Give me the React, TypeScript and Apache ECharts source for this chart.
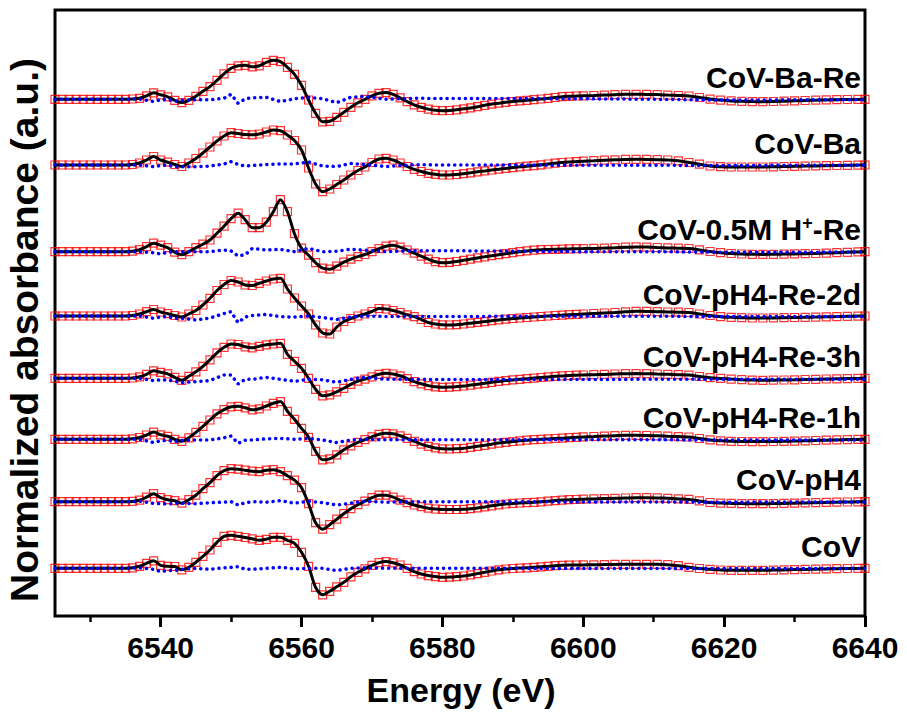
import React, { useEffect, useRef } from 'react';
import * as echarts from 'echarts';

// Energy grid (eV) of the measured points
const energies = [
  6525, 6526, 6527, 6528, 6529, 6530, 6531, 6532, 6533, 6534, 6535, 6536,
  6537, 6538, 6539, 6540, 6541, 6542, 6543, 6544, 6545, 6546, 6547, 6548, 6549, 6550,
  6551, 6552, 6553, 6554, 6555, 6556, 6557, 6558, 6559, 6560, 6561, 6562, 6563, 6564,
  6565, 6566, 6567, 6568, 6569, 6570, 6571, 6572, 6573, 6574, 6575, 6576, 6577, 6578,
  6579, 6580, 6581, 6582, 6583, 6584, 6585, 6586, 6587, 6588, 6589, 6590, 6591, 6592,
  6593, 6594, 6595, 6596, 6597, 6598, 6599, 6600,
  6601.5, 6603, 6604.5, 6606, 6607.5, 6609, 6610.5, 6612, 6613.5, 6615, 6616.5, 6618,
  6619.5, 6621, 6622.5, 6624, 6625.5, 6627, 6628.5, 6630, 6631.5, 6633, 6634.5, 6636,
  6637.5, 6639, 6640,
];

// Energy grid of the residual (difference) curves
const resEnergies = [
  6525, 6530, 6535, 6537, 6539, 6540, 6541, 6542, 6543, 6545, 6547, 6549, 6550, 6551,
  6552, 6553, 6555, 6557, 6559, 6561, 6563, 6565, 6567, 6569, 6572, 6576, 6580, 6590,
  6600, 6610, 6620, 6630, 6640,
];

const labels = ['CoV', 'CoV-pH4', 'CoV-pH4-Re-1h', 'CoV-pH4-Re-3h', 'CoV-pH4-Re-2d', 'CoV-0.5M H+-Re', 'CoV-Ba', 'CoV-Ba-Re'];
// vertical stacking offsets (arbitrary units)
const offsets = [47.7, 114.3, 176.7, 237.7, 300, 364.3, 451, 516.7];
const yMax = 606;

const majorTicks = [6540, 6560, 6580, 6600, 6620, 6640];
const minorTicks = [6530, 6550, 6570, 6590, 6610, 6630];

const cov = [
  0, 0, 0, 0, 0, 0, 0, 0, 0, 0, 0, 0.5,
  2, 5, 7.5, 3, 2, 1.8, -1.5, 1, 6, 12, 18.3, 26, 32, 33,
  32, 30.8, 29.5, 28, 29, 31, 31, 28, 25, 16, 2, -19, -26.5, -23,
  -18.5, -14, -8.5, -4, -0.5, 3, 5.7, 6.7, 5.5, 3.3, 0, -3.3, -5.7, -7.3,
  -8.3, -9, -8.8, -8.3, -7.7, -6.6, -5.3, -4, -2.7, -1.5, -0.7, -0.2, 0.2, 0.5,
  1, 1.5, 2, 2.6, 3, 3.2, 3.3, 3.4,
  3.5, 3.7, 3.9, 4, 4, 4, 4, 3.6, 2.6, 1, -0.2, -1,
  -1.7, -2, -2, -2, -2, -1.8, -1.6, -1.3, -1.1, -0.9, -0.6, -0.4,
  -0.2, -0.1, 0,
];
const covPH4 = [
  0, 0, 0, 0, 0, 0, 0, 0, 0, 0, 0, 0.3,
  1.5, 4.5, 8, 4, 2, 1, -1.5, 2, 6.5, 13, 19, 26, 31, 33,
  32.5, 31.5, 30.5, 30, 31.5, 32, 30, 26, 21.5, 14, -2, -21, -27.5, -23,
  -17.5, -12, -7, -3, 0.5, 4, 6.5, 6.5, 4.5, 1.5, -1, -3.3, -5, -6.5,
  -7.3, -7.7, -7.8, -7.8, -7.6, -7, -6.2, -5.2, -4.1, -3.1, -2.3, -1.7, -1.3, -1,
  -0.6, -0.1, 0.5, 1.1, 1.6, 2, 2.2, 2.5,
  2.8, 3.1, 3.4, 3.7, 4, 4, 3.8, 3.4, 2.8, 2.3, 0.8, -0.8,
  -1.4, -1.7, -1.9, -2, -2, -1.9, -1.7, -1.5, -1.2, -1, -0.7, -0.5,
  -0.3, -0.1, 0,
];
const covRe1h = [
  0, 0, 0, 0, 0, 0, 0, 0, 0, 0, 0, 0.5,
  1.8, 4.3, 7.2, 4.5, 3, 0, -2, 1.5, 7, 13, 19.3, 25.5, 29.7, 32.5,
  33, 31.5, 29.5, 30.5, 33.3, 36, 37.7, 28, 20, 11, 2, -12, -20.5, -19.5,
  -15.5, -10.5, -6.5, -3, -0.3, 2.5, 5, 6, 5.5, 3.5, 1, -2, -4.8, -7,
  -8.6, -9.5, -9.7, -9.4, -9, -8, -7, -6, -4.9, -3.8, -3, -2.2, -1.5, -0.9,
  -0.4, 0, 0.4, 0.8, 1.1, 1.6, 2, 2.4,
  2.8, 3.2, 3.6, 4, 4, 3.8, 3.5, 3.1, 2.7, 2.3, 0.8, -0.6,
  -1.5, -2, -2.2, -2.3, -2.3, -2.2, -2, -1.8, -1.5, -1.2, -0.9, -0.6,
  -0.3, -0.1, 0,
];
const covRe3h = [
  0, 0, 0, 0, 0, 0, 0, 0, 0, 0, 0, 0.3,
  1.5, 4, 7.5, 6, 4.5, 1, -2, 2, 6.5, 12, 18.5, 25.5, 31, 34.3,
  33.8, 31.5, 30.5, 32, 33.5, 34.3, 35, 24, 17, 10, 0, -11, -17.5, -16.5,
  -13.5, -10, -6, -2.8, -0.8, 1.5, 4, 5, 4.3, 2.5, -0.3, -3.3, -5.5, -7.3,
  -8.5, -9, -8.8, -8.3, -7.7, -6.8, -5.9, -5, -4, -3.1, -2.3, -1.6, -1, -0.4,
  0.2, 0.8, 1.4, 2, 2.4, 2.8, 3.1, 3.3,
  3.6, 3.9, 4.3, 4.6, 4.7, 4.6, 4.3, 4, 3.6, 3.2, 1.8, 0.6,
  -0.1, -0.8, -1.4, -1.8, -2, -1.9, -1.7, -1.5, -1.2, -1, -0.7, -0.5,
  -0.3, -0.1, 0,
];
const covRe2d = [
  0, 0, 0, 0, 0, 0, 0, 0, 0, 0, 0, 0.5,
  2, 4.3, 6.5, 4, 2.3, 0.5, -1, 2, 5.5, 11, 17.7, 25.5, 31.5, 35.5,
  34, 31, 30.5, 32.7, 35, 37, 37.7, 27, 18, 10, 2, -9, -17, -18,
  -11, -5.5, -2.5, 0, 2, 4.5, 7.5, 7, 5.5, 3.5, 1.2, -0.7, -3.5, -6.5,
  -8, -8.8, -9, -8.7, -8, -7.2, -6.4, -5.6, -4.7, -3.9, -3.2, -2.5, -2, -1.5,
  -1, -0.5, 0, 0.5, 0.9, 1.3, 1.6, 2,
  2.5, 3, 3.5, 4.2, 4.7, 4.6, 4.3, 4, 3.8, 3.5, 2, 0.5,
  -0.7, -1.3, -1.7, -2, -2, -1.9, -1.7, -1.5, -1.3, -1.1, -0.8, -0.6,
  -0.3, -0.1, 0,
];
const covH = [
  0, 0, 0, 0, 0, 0, 0, 0, 0, 0, 0, 0.5,
  2, 5, 8.5, 6.5, 4, -0.5, -3, 0, 4, 7.5, 11.7, 18.5, 25.5, 33,
  38.5, 32, 24, 24, 29.5, 40, 52, 40, 18, 3.5, -3.5, -11, -16.5, -17.5,
  -14.5, -10.5, -7.5, -5, -2.8, 0, 3, 5.5, 6.5, 4.5, 1.7, -1.5, -4.5, -7.5,
  -10, -11, -10.7, -9.8, -8.6, -7.4, -6.2, -5.1, -4, -3, -2, -1, 0, 0.8,
  1.5, 2, 2.2, 2.4, 2.6, 2.8, 3, 3.1,
  3.3, 3.6, 4, 4.5, 4.8, 4.6, 4.2, 3.8, 3.5, 3.2, 1.8, 0.2,
  -1, -1.8, -2.3, -2.6, -2.7, -2.6, -2.4, -2.2, -2, -1.8, -1.4, -1,
  -0.6, -0.2, 0,
];
const covBa = [
  0, 0, 0, 0, 0, 0, 0, 0, 0, 0, 0, 0.5,
  2, 5, 8.5, 5, 2.8, 0.5, -1.5, 2, 6.5, 12, 18, 24, 29, 32.3,
  31.5, 30.5, 30.2, 31, 33, 35, 34.3, 30, 24.5, 15, -3, -19, -26.7, -24,
  -19.5, -15, -10, -5.5, -2, 2.5, 6, 6.7, 5, 2, -1.5, -4.3, -6.5, -8.3,
  -9.3, -10, -10, -9.5, -8.7, -7.8, -6.8, -5.9, -5, -4.2, -3.4, -2.6, -1.8, -1.2,
  -0.6, 0.2, 1, 1.8, 2.5, 3, 3.4, 3.8,
  4.3, 4.8, 5.2, 5.6, 5.7, 5.6, 5.3, 5, 4.2, 2.5, 0.8, -1,
  -1.7, -2, -2, -2, -2, -1.8, -1.5, -1.3, -1.1, -0.9, -0.7, -0.5,
  -0.3, -0.1, 0,
];
const covBaRe = [
  0, 0, 0, 0, 0, 0, 0, 0, 0, 0, 0, 0.3,
  1, 3.5, 6.5, 4.5, 2.5, -1, -3.3, -1, 3, 8, 12.7, 19, 25.5, 31,
  33.5, 34, 32.5, 33.5, 37, 39, 37.7, 32, 25, 14, -0.7, -14, -22.5, -22,
  -18, -13, -8, -3.5, 0, 3.5, 6, 6.7, 5, 1.5, -2.4, -5.5, -8, -9.8,
  -11, -11.4, -11.2, -10.5, -9.5, -8.6, -7.4, -6, -4.8, -3.9, -3, -2.2, -1.6, -1,
  -0.4, 0.3, 1, 1.8, 2.6, 3, 3.3, 3.5,
  3.8, 4.2, 4.6, 5, 5, 4.9, 4.7, 4.2, 3.8, 3.3, 1.8, 0.2,
  -0.8, -1.6, -2, -2.3, -2.4, -2.2, -1.9, -1.5, -1.2, -0.9, -0.6, -0.4,
  -0.2, -0.1, 0,
];

// Residuals (data - fit)
const resCoV = [0, 0, 0, 0.5, -1, -3.3, -2.3, -2.3, -1, 0, -1, 0.5, 1, 1.7, -1, -1, 0, 1, -0.5, 0, 0, -2.3, 0, 0.5, 0, 0, 0, 0, -0.3, -0.3, -0.3, -0.3, -0.3];
const resPH4 = [0, 0, 0, 0.5, -1.7, -2, -2.3, -1.5, -1.5, -2, -1, -0.5, 0, -3.3, -1, 0, -0.5, 1, -1.5, 0.5, -1, -3.3, -1.5, 0.5, -0.5, 0, 0, 0, -0.3, -0.3, -0.5, -0.3, -0.3];
const resRe1h = [0, 0, 0, 0, -3.3, -1.5, -1, -2.3, -1, -0.7, -0.7, 1.5, 3.3, -4, -1, -0.7, 0.5, 1, 0, 1, -0.7, -3.3, -0.7, 0, -0.5, -0.5, -0.5, -0.5, -0.5, -0.5, -0.7, -0.7, -0.7];
const resRe3h = [0, 0, 0, 0, -2.3, -1.5, -1.7, -3, -4.3, -3.3, -2.3, 3.3, 3.3, -5.7, -1, -1, 1, -1, -3, -1, -1.5, -4, -1, 1, -1, -1, -1.2, -1.3, -1.2, -1, -1, -1, -1];
const resRe2d = [0, 0, 0, 0, -2.3, -1, -0.5, -2.3, -2.3, -4, -2, 2.5, 4.3, -6.7, -1, 0.5, 1.5, -0.7, -1, 0, -1.5, -3.5, -1, 0, -0.5, -0.5, -0.5, -0.3, -0.3, -0.3, -0.5, -0.5, -0.5];
const resH = [0, 0, 0, 0, -1, -2.3, -0.5, 0, 0, 0, 0, 1.7, 0.7, -4.3, -3, 3.3, 1.7, 2.3, 0, 3.3, 0, 0.5, 2.5, 1.5, 0, 1, 1, 0.5, 0, 0, -0.5, -0.5, -0.3];
const resBa = [0, 0, 0, 0, -1.7, -0.5, 0, -1.7, -1.7, -1.7, -1, 1, 3.3, 0.5, -1, -0.5, 0.5, 1, 1, 3, -1, -1.5, 1.5, 0.5, -1.5, 0.3, 0, 0, -0.3, -0.3, -0.5, -0.3, -0.3];
const resBaRe = [0, 0, 0, 0.3, -2.3, -0.5, 0, -2, -1, -0.5, -0.5, 1, 5, -4, 0.5, 1.5, 2, -2.3, 0.5, 2, 0.5, -3.3, 2, 3, 0, 1, 0.8, 0.8, 0.5, 0, -0.8, -0.5, -0.5];

const curves = [cov, covPH4, covRe1h, covRe3h, covRe2d, covH, covBa, covBaRe];
const residuals = [resCoV, resPH4, resRe1h, resRe3h, resRe2d, resH, resBa, resBaRe];

const FAMILY = 'Liberation Sans';

export default function App() {
  const ref = useRef<HTMLDivElement>(null);

  useEffect(() => {
    document.body.style.margin = '0';
    const chart = echarts.init(ref.current as HTMLDivElement, null, { renderer: 'svg' });

    const series: any[] = [];
    curves.forEach((vals, i) => {
      const off = offsets[i];
      const pts = energies.map((e, j) => [e, vals[j] + off]);
      series.push({
        type: 'scatter',
        name: labels[i] + ' data',
        data: pts,
        symbol: 'rect',
        symbolSize: 8,
        itemStyle: { color: 'rgba(255,255,255,0)', borderColor: '#ff0000', borderWidth: 1.2 },
        z: 2,
        silent: true,
      });
      series.push({
        type: 'line',
        name: labels[i] + ' fit',
        data: pts,
        showSymbol: false,
        smooth: 0.3,
        lineStyle: { color: '#000000', width: 3 },
        z: 3,
        silent: true,
      });
      series.push({
        type: 'line',
        name: labels[i] + ' residual',
        data: resEnergies.map((e, j) => [e, residuals[i][j] + off]),
        showSymbol: false,
        lineStyle: { color: '#0000ff', width: 3.5, type: [0.1, 6], cap: 'round' },
        z: 4,
        silent: true,
      });
    });

    chart.setOption({
      animation: false,
      grid: { left: 55, right: 42, top: 10, bottom: 99, show: true, borderColor: '#000', borderWidth: 3, backgroundColor: 'transparent' },
      xAxis: [
        {
          type: 'value',
          min: 6525,
          max: 6640,
          position: 'bottom',
          axisLine: { show: false },
          splitLine: { show: false },
          axisTick: { show: true, length: 11, lineStyle: { width: 3, color: '#000' }, customValues: majorTicks },
          axisLabel: {
            customValues: majorTicks,
            formatter: (v: number) => String(v),
            margin: 16,
            fontSize: 30,
            fontWeight: 'bold',
            fontFamily: FAMILY,
            color: '#000',
          },
        },
        {
          type: 'value',
          min: 6525,
          max: 6640,
          position: 'bottom',
          axisLine: { show: false },
          splitLine: { show: false },
          axisTick: { show: true, length: 6, lineStyle: { width: 2.5, color: '#000' }, customValues: minorTicks },
          axisLabel: { show: false, customValues: minorTicks },
        },
      ],
      yAxis: { type: 'value', min: 0, max: yMax, show: false },
      series,
    });

    const graphics: any[] = [
      {
        type: 'text',
        x: 24,
        y: 330,
        rotation: Math.PI / 2,
        style: {
          text: 'Normalized absorbance (a.u.)',
          fontSize: 39,
          fontWeight: 'bold',
          fontFamily: FAMILY,
          fill: '#000',
          align: 'center',
          verticalAlign: 'middle',
        },
      },
      {
        type: 'text',
        x: 461,
        y: 690,
        style: {
          text: 'Energy (eV)',
          fontSize: 34,
          fontWeight: 'bold',
          fontFamily: FAMILY,
          fill: '#000',
          align: 'center',
          verticalAlign: 'middle',
        },
      },
    ];

    labels.forEach((lab, i) => {
      const p = chart.convertToPixel({ gridIndex: 0 }, [6640, offsets[i]]) as number[];
      const y = p[1] - 22;
      const isH = lab.indexOf('H+') >= 0;
      const style: any = {
        fill: '#000',
        align: 'right',
        verticalAlign: 'middle',
      };
      if (isH) {
        style.text = '{a|CoV-0.5M H}{s|+}{a|-Re}';
        style.rich = {
          a: { fontSize: 30, fontWeight: 'bold', fontFamily: FAMILY, fill: '#000', lineHeight: 32 },
          s: { fontSize: 18, fontWeight: 'bold', fontFamily: FAMILY, fill: '#000', verticalAlign: 'top', lineHeight: 18 },
        };
      } else {
        style.text = lab;
        style.fontSize = 30;
        style.fontWeight = 'bold';
        style.fontFamily = FAMILY;
      }
      graphics.push({ type: 'text', x: 861, y, style });
    });

    chart.setOption({ graphic: graphics });

    return () => {
      chart.dispose();
    };
  }, []);

  return <div ref={ref} style={{ width: 907, height: 715 }} />;
}
